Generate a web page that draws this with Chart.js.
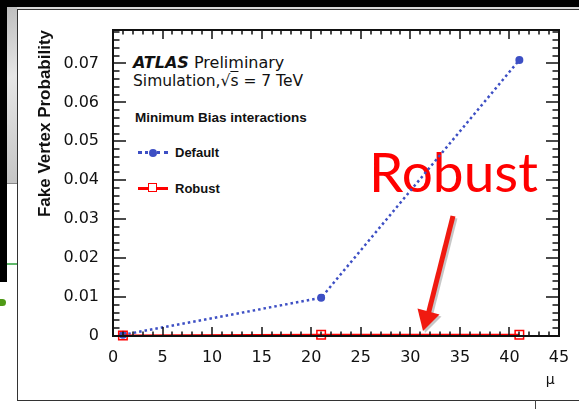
<!DOCTYPE html>
<html>
<head>
<meta charset="utf-8">
<script src="https://cdn.jsdelivr.net/npm/chart.js@4.4.0/dist/chart.umd.min.js"></script>
<style>
    html, body { margin: 0; padding: 0; background: #fff; }
    #page { position: relative; width: 579px; height: 409px; overflow: hidden; background: #fff; }
    .abs { position: absolute; }
    .txt { position: absolute; white-space: nowrap; line-height: 1; color: #111; }
    .dv { font-family: "DejaVu Sans", sans-serif; }
    .lib { font-family: "Liberation Sans", Arial, sans-serif; font-weight: bold; }
    #chart { position: absolute; left: 0; top: 0; }
</style>
</head>
<body>
<div id="page">
    <!-- slide background bits -->
    <div class="abs" style="left:0;top:0;width:579px;height:7px;background:#000;"></div>
    <div class="abs" style="left:0;top:7px;width:579px;height:2px;background:#d8d8d8;"></div>
    <div class="abs" style="left:0;top:0;width:7px;height:282px;background:#000;"></div>
    <div class="abs" style="left:7px;top:7px;width:10px;height:176px;background:linear-gradient(160deg,#bdbdbd,#e6e6e6 40%,#c4c4c4);border-bottom:1px solid #8a8a8a;"></div>
    <div class="abs" style="left:7px;top:263px;width:10px;height:2px;background:#5fb86a;"></div>
    <div class="abs" style="left:0;top:299px;width:6px;height:7px;border-radius:0 4px 4px 0;background:#4f9a16;"></div>
    <div class="abs" style="left:17px;top:9px;width:562px;height:390px;border-top:1.5px solid #333;border-left:1.5px solid #333;border-bottom:1.5px solid #333;background:#fff;"></div>
    <div class="abs" style="left:535px;top:400px;width:1px;height:9px;background:#444;"></div>

    <!-- plot annotations -->
    <div class="txt dv" style="left:133px;top:54.5px;font-size:16px;"><b><i>ATLAS</i></b> Preliminary</div>
    <div class="txt dv" style="left:133px;top:74px;font-size:15.5px;">Simulation,√<span style="text-decoration:overline;">s</span> = 7 TeV</div>
    <div class="txt lib" style="left:135px;top:111.3px;font-size:13.5px;">Minimum Bias interactions</div>

    <div class="abs" style="left:138px;top:151px;width:30px;height:0;border-top:3px dotted #3d4fc4;"></div>
    <div class="abs" style="left:149px;top:148.5px;width:8px;height:8px;border-radius:50%;background:#3d4fc4;"></div>
    <div class="txt lib" style="left:175px;top:146px;font-size:13px;">Default</div>

    <div class="abs" style="left:138px;top:187px;width:30px;height:2.5px;background:#ff0000;"></div>
    <div class="abs" style="left:148px;top:183px;width:7px;height:7px;border:1.5px solid #ff0000;background:#fff;"></div>
    <div class="txt lib" style="left:175px;top:182px;font-size:13px;">Robust</div>

    <div class="txt" style="left:369px;top:143.5px;font-size:55px;font-family:Lato,sans-serif;color:#ff0000;">Robust</div>

    <svg class="abs" style="left:0;top:0;" width="579" height="409">
        <g fill="rgba(0,0,0,0.22)" stroke="rgba(0,0,0,0.22)">
            <line x1="455" y1="218" x2="430.5" y2="315" stroke-width="5"/>
            <polygon points="425,333 441.5,316.5 419.5,310.5" stroke="none"/>
        </g>
        <line x1="453" y1="216" x2="428.5" y2="313" stroke="#f01a10" stroke-width="5"/>
        <polygon points="423,331 439.5,314.5 417.5,308.5" fill="#f01a10"/>
    </svg>

    <canvas id="chart" width="579" height="409"></canvas>
</div>

<script>
// --- Data ---
const muValues = [1, 21, 41];
const defaultProb = [0.0003, 0.0098, 0.0709];
const robustProb = [0.0001, 0.0003, 0.0003];

const xTicks = [0, 5, 10, 15, 20, 25, 30, 35, 40, 45];
const yTicks = [0, 0.01, 0.02, 0.03, 0.04, 0.05, 0.06, 0.07];

const xMin = 0, xMax = 45;
const yMin = 0, yMax = 0.0786;

const blue = '#3d4fc4';
const red = '#ff0000';
const ink = '#111111';

// --- ROOT-style frame with inward ticks on all sides ---
const frameTicks = {
    id: 'frameTicks',
    afterDraw(chart) {
        const c = chart.ctx;
        const a = chart.chartArea;
        const sx = chart.scales.x;
        const sy = chart.scales.y;
        c.save();
        c.fillStyle = ink;

        for (let v = xMin; v <= xMax; v += 1) {
            const px = Math.round(sx.getPixelForValue(v));
            const len = v % 5 === 0 ? 9 : 4.5;
            c.fillRect(px - 0.75, a.bottom - len, 1.5, len);
            c.fillRect(px - 0.75, a.top, 1.5, len);
        }
        for (let i = 0; i * 0.002 <= yMax + 1e-9; i++) {
            const py = Math.round(sy.getPixelForValue(i * 0.002));
            const len = i % 5 === 0 ? 13 : 6.5;
            c.fillRect(a.left, py - 0.75, len, 1.5);
            c.fillRect(a.right - len, py - 0.75, len, 1.5);
        }

        // frame
        c.fillRect(a.left - 1, a.top - 1, a.right - a.left + 2, 2);
        c.fillRect(a.left - 1, a.bottom - 1, a.right - a.left + 2, 2);
        c.fillRect(a.left - 1, a.top - 1, 2, a.bottom - a.top + 2);
        c.fillRect(a.right - 1, a.top - 1, 2, a.bottom - a.top + 2);
        c.restore();
    }
};

new Chart(document.getElementById('chart').getContext('2d'), {
    type: 'line',
    data: {
        datasets: [
            {
                label: 'Robust',
                data: muValues.map((m, i) => ({ x: m, y: robustProb[i] })),
                borderColor: red,
                borderWidth: 2,
                pointStyle: 'rect',
                pointRadius: 6,
                pointBackgroundColor: 'rgba(0,0,0,0)',
                pointBorderColor: red,
                pointBorderWidth: 1.5,
                order: 0,
                clip: false
            },
            {
                label: 'Default',
                data: muValues.map((m, i) => ({ x: m, y: defaultProb[i] })),
                borderColor: blue,
                borderWidth: 2.5,
                borderDash: [2.5, 3],
                pointRadius: 4,
                pointBackgroundColor: blue,
                pointBorderWidth: 0,
                order: 1,
                clip: false
            }
        ]
    },
    options: {
        responsive: false,
        animation: false,
        devicePixelRatio: 1,
        layout: { padding: { left: 20, top: 30, right: 20, bottom: 0 } },
        plugins: { legend: { display: false }, tooltip: { enabled: false } },
        scales: {
            x: {
                type: 'linear',
                min: xMin,
                max: xMax,
                grid: { display: false },
                border: { display: false },
                afterBuildTicks: (s) => { s.ticks = xTicks.map(v => ({ value: v })); },
                afterFit: (s) => { s.height = 73; },
                ticks: {
                    autoSkip: false,
                    maxRotation: 0,
                    padding: 4,
                    color: ink,
                    font: { family: 'DejaVu Sans', size: 16 },
                    callback: (v) => String(v)
                },
                title: {
                    display: true,
                    text: 'μ ',
                    align: 'end',
                    color: ink,
                    font: { family: 'DejaVu Sans', size: 14 },
                    padding: { top: 0, bottom: 20 }
                }
            },
            y: {
                min: yMin,
                max: yMax,
                grid: { display: false },
                border: { display: false },
                afterBuildTicks: (s) => { s.ticks = yTicks.map(v => ({ value: v })); },
                afterFit: (s) => { s.width = 93; },
                ticks: {
                    padding: 6,
                    color: ink,
                    font: { family: 'DejaVu Sans', size: 16 },
                    callback: (v) => v === 0 ? '0' : v.toFixed(2)
                },
                title: {
                    display: true,
                    text: 'Fake Vertex Probability',
                    align: 'end',
                    color: ink,
                    font: { family: 'Liberation Sans', size: 17, weight: 'bold' },
                    padding: { top: 15, bottom: 0 }
                }
            }
        }
    },
    plugins: [frameTicks]
});
</script>
</body>
</html>
